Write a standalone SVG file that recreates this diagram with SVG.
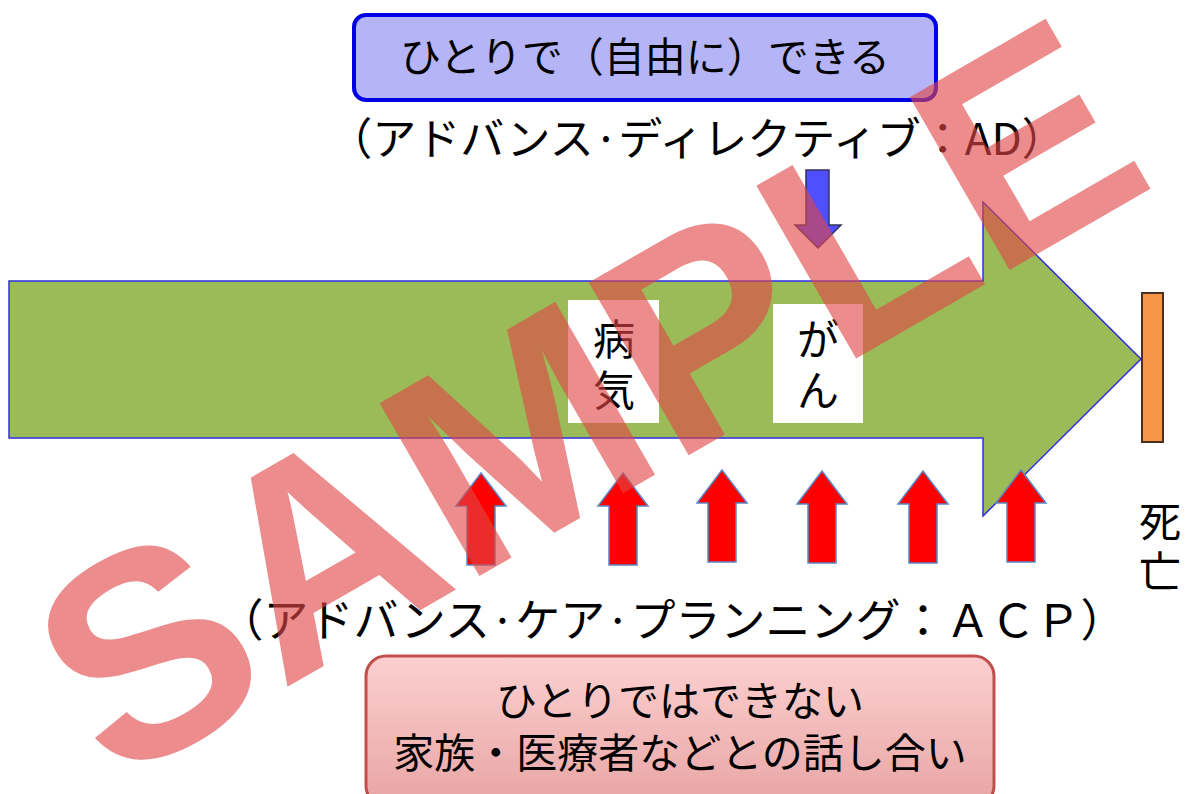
<svg xmlns="http://www.w3.org/2000/svg" width="1190" height="794" viewBox="0 0 1190 794">
<defs>
<linearGradient id="pinkGrad" x1="0" y1="0" x2="0" y2="1">
<stop offset="0" stop-color="#fcd0d0"/>
<stop offset="1" stop-color="#e8a4a4"/>
</linearGradient>
<path id="upArrow" d="M0,-92 L25,-59 L14,-59 L14,0 L-14,0 L-14,-59 L-25,-59 Z"/>
</defs>
<style>
.jp{font-family:"Noto Sans CJK JP","Noto Sans CJK SC",sans-serif;fill:#000;}
.up{fill:#ff0000;stroke:#5b86c4;stroke-width:1.5;}
</style>
<rect width="1190" height="794" fill="#ffffff"/>

<g id="timeline-arrow">
<path d="M9,281 L983,281 L983,202 L1141,359 L983,516 L983,438 L9,438 Z" fill="#9bbb59" stroke="#2e2ee6" stroke-width="1.5"/>
</g>

<g id="death-bar">
<rect x="1142" y="293" width="21" height="149" fill="#f79646" stroke="#4a3020" stroke-width="2"/>
</g>
<g id="death-label">
<text class="jp" x="1160" y="537" font-size="42" text-anchor="middle">死</text>
<text class="jp" x="1160" y="587" font-size="42" text-anchor="middle">亡</text>
</g>

<g id="ad-box">
<rect x="354" y="15" width="582" height="85" rx="12" fill="#b4b4f6" stroke="#0000e6" stroke-width="4"/>
<text class="jp" x="645" y="72" font-size="41" text-anchor="middle">ひとりで（自由に）できる</text>
</g>
<g id="ad-label">
<text class="jp" x="697" y="155" font-size="44" text-anchor="middle">（アドバンス·ディレクティブ：AD）</text>
</g>

<g id="disease-box">
<rect x="568" y="300" width="91" height="123" fill="#ffffff"/>
<text class="jp" x="614" y="355" font-size="42" text-anchor="middle">病</text>
<text class="jp" x="614" y="406" font-size="42" text-anchor="middle">気</text>
</g>
<g id="cancer-box">
<rect x="773" y="304" width="90" height="119" fill="#ffffff"/>
<text class="jp" x="818" y="355" font-size="42" text-anchor="middle">が</text>
<text class="jp" x="818" y="406" font-size="42" text-anchor="middle">ん</text>
</g>

<g id="connectors">
<path d="M806,170 L829,170 L829,225 L841,225 L818,248 L795,225 L806,225 Z" fill="#4f4fff" stroke="#33335a" stroke-width="1.5"/>
<use href="#upArrow" class="up" transform="translate(481,565)"/>
<use href="#upArrow" class="up" transform="translate(623,565)"/>
<use href="#upArrow" class="up" transform="translate(722,562)"/>
<use href="#upArrow" class="up" transform="translate(822,563)"/>
<use href="#upArrow" class="up" transform="translate(923,563)"/>
<use href="#upArrow" class="up" transform="translate(1021,562)"/>
</g>

<g id="acp-label">
<text class="jp" x="672" y="637" font-size="45" text-anchor="middle">（アドバンス·ケア·プランニング：ＡＣＰ）</text>
</g>

<g id="acp-box">
<rect x="366" y="656" width="628" height="150" rx="20" fill="url(#pinkGrad)" stroke="#c0504d" stroke-width="3"/>
<text class="jp" x="680" y="716" font-size="41" text-anchor="middle">ひとりではできない</text>
<text class="jp" x="680" y="768" font-size="41" text-anchor="middle">家族・医療者などとの話し合い</text>
</g>

<g id="watermark" opacity="0.62">
<text x="0" y="104" font-family="Liberation Sans, Arial, sans-serif" font-weight="bold" font-size="290" fill="#e14646" text-anchor="middle" transform="translate(585,395) rotate(-30)">SAMPLE</text>
</g>
</svg>
